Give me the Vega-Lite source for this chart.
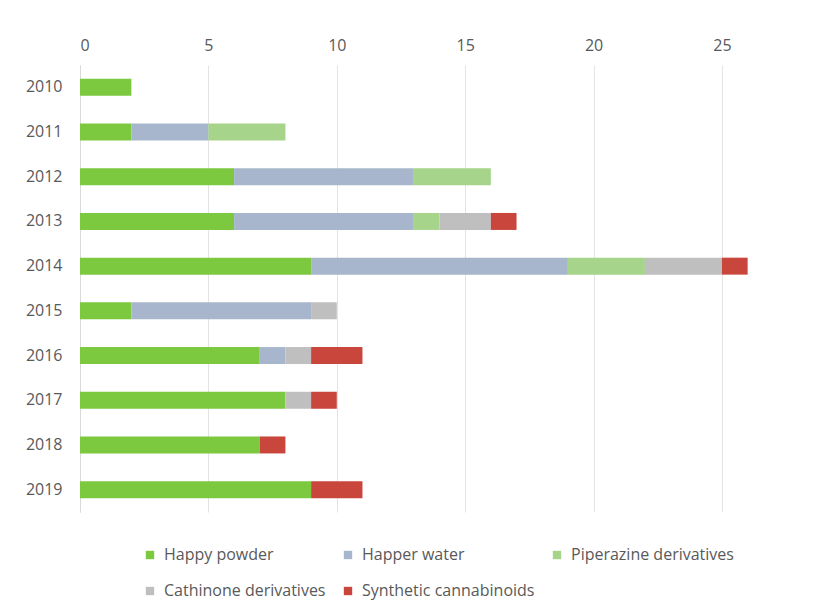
{
  "$schema": "https://vega.github.io/schema/vega-lite/v6.json",
  "width": 719,
  "height": 447,
  "autosize": {"type": "none"},
  "padding": {"left": 80, "top": 65, "right": 15, "bottom": 98},
  "background": "white",
  "config": {
    "view": {"stroke": null},
    "font": "Open Sans",
    "axis": {"labelFont": "Open Sans", "labelColor": "#595959", "labelFontSize": 15},
    "legend": {"labelFont": "Open Sans", "labelColor": "#595959", "labelFontSize": 16, "labelLimit": 0}
  },
  "data": {
    "values": [
      {"year": "2010", "type": "Happy powder", "count": 2},
      {"year": "2011", "type": "Happy powder", "count": 2},
      {"year": "2011", "type": "Happer water", "count": 3},
      {"year": "2011", "type": "Piperazine derivatives", "count": 3},
      {"year": "2012", "type": "Happy powder", "count": 6},
      {"year": "2012", "type": "Happer water", "count": 7},
      {"year": "2012", "type": "Piperazine derivatives", "count": 3},
      {"year": "2013", "type": "Happy powder", "count": 6},
      {"year": "2013", "type": "Happer water", "count": 7},
      {"year": "2013", "type": "Piperazine derivatives", "count": 1},
      {"year": "2013", "type": "Cathinone derivatives", "count": 2},
      {"year": "2013", "type": "Synthetic cannabinoids", "count": 1},
      {"year": "2014", "type": "Happy powder", "count": 9},
      {"year": "2014", "type": "Happer water", "count": 10},
      {"year": "2014", "type": "Piperazine derivatives", "count": 3},
      {"year": "2014", "type": "Cathinone derivatives", "count": 3},
      {"year": "2014", "type": "Synthetic cannabinoids", "count": 1},
      {"year": "2015", "type": "Happy powder", "count": 2},
      {"year": "2015", "type": "Happer water", "count": 7},
      {"year": "2015", "type": "Cathinone derivatives", "count": 1},
      {"year": "2016", "type": "Happy powder", "count": 7},
      {"year": "2016", "type": "Happer water", "count": 1},
      {"year": "2016", "type": "Cathinone derivatives", "count": 1},
      {"year": "2016", "type": "Synthetic cannabinoids", "count": 2},
      {"year": "2017", "type": "Happy powder", "count": 8},
      {"year": "2017", "type": "Cathinone derivatives", "count": 1},
      {"year": "2017", "type": "Synthetic cannabinoids", "count": 1},
      {"year": "2018", "type": "Happy powder", "count": 7},
      {"year": "2018", "type": "Synthetic cannabinoids", "count": 1},
      {"year": "2019", "type": "Happy powder", "count": 9},
      {"year": "2019", "type": "Synthetic cannabinoids", "count": 2}
    ]
  },
  "transform": [
    {"calculate": "indexof(['Happy powder','Happer water','Piperazine derivatives','Cathinone derivatives','Synthetic cannabinoids'], datum.type)", "as": "k"}
  ],
  "mark": {"type": "bar"},
  "encoding": {
    "y": {
      "field": "year", "type": "ordinal",
      "scale": {"paddingInner": 0.62, "paddingOuter": 0.31},
      "axis": {"title": null, "ticks": false, "domainColor": "#d9d9d9", "labelPadding": 18, "labelFontSize": 16}
    },
    "x": {
      "field": "count", "type": "quantitative", "aggregate": "sum",
      "scale": {"domain": [0, 28], "nice": false},
      "axis": {"orient": "top", "title": null, "values": [0, 5, 10, 15, 20, 25], "ticks": false, "domain": false,
               "gridColor": "#e3e3e3", "labelPadding": 12, "labelFontSize": 16}
    },
    "color": {
      "field": "type", "type": "nominal",
      "scale": {
        "domain": ["Happy powder", "Happer water", "Piperazine derivatives", "Cathinone derivatives", "Synthetic cannabinoids"],
        "range": ["#7cc940", "#a7b6cc", "#a5d48a", "#bfbfbf", "#c9463d"]
      },
      "legend": {
        "orient": "none", "legendX": 62, "legendY": 482, "direction": "horizontal", "columns": 3,
        "title": null, "symbolType": "square", "symbolSize": 70, "symbolStrokeWidth": 0,
        "columnPadding": 14, "rowPadding": 20, "labelOffset": 6, "labelLimit": 0
      }
    },
    "order": {"field": "k", "type": "quantitative", "aggregate": "min"}
  }
}
